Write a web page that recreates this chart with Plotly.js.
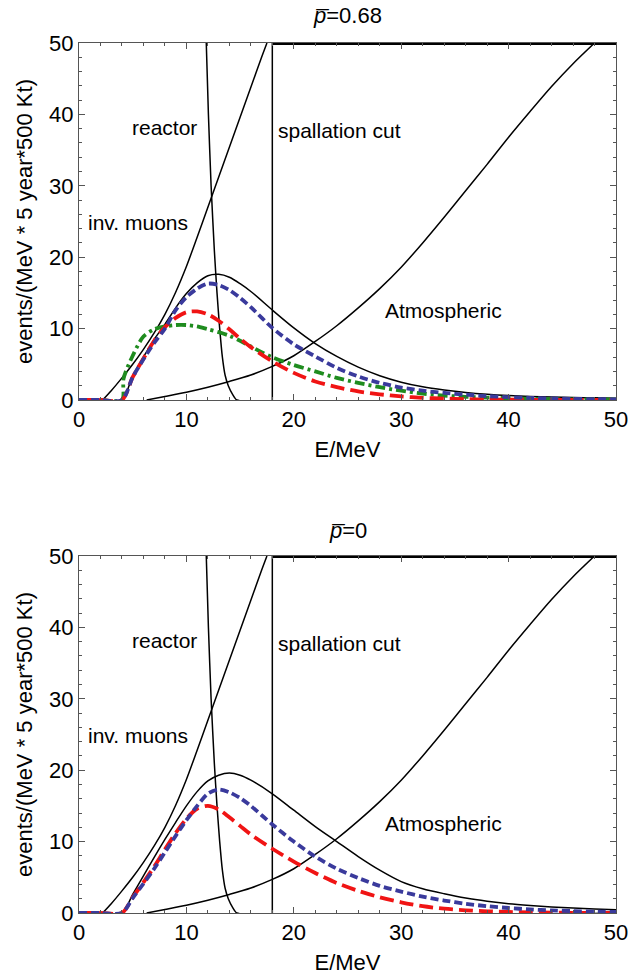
<!DOCTYPE html>
<html>
<head>
<meta charset="utf-8">
<script src="https://cdn.plot.ly/plotly-3.0.1.min.js"></script>
<style>html,body{margin:0;padding:0;background:#fff;}#chart{width:629px;height:975px;}</style>
</head>
<body>
<div id="chart"></div>
<script>
// ---------- data ----------
const energyGrid = [0,2,4,5,6,7,8,9,10,11,12,13,14,15,16,18,20,22,24,26,28,30,32,34,36,38,40,42,44,46,48,50];

// p̄ = 0.68 panel
const black068 = [0,0,0,3.4,6.0,8.5,10.6,12.9,14.9,16.4,17.4,17.6,17.2,16.3,15.2,12.6,10.1,7.9,6.1,4.6,3.4,2.5,1.85,1.4,1.05,0.8,0.62,0.5,0.42,0.35,0.3,0.26];
const blue068  = [0,0,0,3.2,5.7,8.0,10.0,12.6,14.4,15.6,16.3,16.1,15.4,14.3,13.0,10.1,7.8,6.1,4.5,3.3,2.4,1.75,1.3,1.0,0.75,0.55,0.4,0.3,0.22,0.16,0.12,0.09];
const red068   = [0,0,0,3.2,5.8,8.3,10.2,11.5,12.3,12.4,12.0,11.1,9.9,8.6,7.4,5.4,3.8,2.6,1.8,1.2,0.8,0.5,0.3,0.2,0.12,0.08,0.05,0.03,0.02,0.01,0.01,0];
const greenE068 = [0,2,4,4.15,5,6,7,8,9,10,11,12,13,14,15,16,17,18,20,22,24,26,28,30,32,34,36,38,40,42,44,46,48,50];
const green068  = [0,0,0,3.0,6.2,8.9,9.9,10.3,10.5,10.5,10.3,9.9,9.5,9.0,8.3,7.5,6.7,6.0,4.9,4.0,3.1,2.4,1.8,1.3,0.9,0.62,0.45,0.33,0.25,0.18,0.13,0.1,0.08,0.06];

// p̄ = 0 panel
const black0 = [0,0,0,2.6,5.2,7.8,10.3,12.7,15.0,17.0,18.5,19.3,19.6,19.3,18.6,16.7,14.4,12.1,10.0,7.9,6.0,4.4,3.4,2.7,2.1,1.65,1.3,1.05,0.85,0.7,0.57,0.47];
const blue0  = [0,0,0,2.1,4.1,6.2,8.5,10.8,13.0,15.0,16.7,17.3,16.9,16.1,15.0,12.4,10.0,7.9,6.2,4.9,3.8,3.0,2.3,1.75,1.3,0.95,0.7,0.5,0.37,0.27,0.2,0.15];
const red0   = [0,0,0,2.2,4.3,6.5,8.9,11.2,13.2,14.6,15.0,14.5,13.4,12.2,11.0,9.0,7.2,5.6,4.2,3.1,2.2,1.5,0.95,0.6,0.38,0.24,0.15,0.09,0.05,0.03,0.02,0.01];

// backgrounds (same in both panels)
const invMuonE = [2.2,3,4,5,6,7,8,9,10,11,12,13,14,15,16,17,17.5];
const invMuon  = [0,1.3,3.1,5.0,7.1,9.4,12.0,15.1,18.7,22.8,27.0,31.2,35.4,39.6,43.8,48.0,50];
const reactorE = [11.85,12.05,12.3,12.6,12.85,13.1,13.35,13.6,13.9,14.3,14.7,50];
const reactor  = [50,40,30,21,15,10,6,3.5,2,0.8,0,0];
const atmosE = [6.3,8,10,12,14,16,18,20,22,24,26,28,30,32,34,36,38,40,42,44,46,48];
const atmos  = [0,0.5,1.1,1.8,2.6,3.5,4.7,6.2,8.2,10.4,12.9,15.6,18.6,22.0,25.6,29.3,33.0,36.8,40.4,43.9,47.1,50];
const spallationCut = 18;
const yMax = 50;

const panelTitles = ['<i>p\u0305</i>=0.68', '<i>p\u0305</i>=0'];
const labelText = ['reactor','spallation cut','inv. muons','Atmospheric'];
const labelE = [8.0, 24.3, 5.5, 33.9];
const labelY = [38.2, 37.8, 24.9, 12.6];
const tickVals = [0,10,20,30,40,50];

// ---------- styles ----------
const FONT = 'Liberation Sans, Arial, Helvetica, sans-serif';
const blk = {color:'#000', width:1.5, shape:'spline', smoothing:0.8};
const blkStraight = {color:'#000', width:1.5};
const blueLine = {color:'#3a3a9c', width:3.8, dash:'8px,4px', shape:'spline', smoothing:0.8};
const redLine = {color:'#f01414', width:3.8, dash:'14px,6px', shape:'spline', smoothing:0.8};
const greenLine = {color:'#1f8c1f', width:3.8, dash:'10px,4px,3px,4px', shape:'spline', smoothing:0.8};

function panel(xa, ya, black, blue, red, green) {
  const t = [];
  const base = {xaxis:xa, yaxis:ya, mode:'lines', hoverinfo:'skip', type:'scatter'};
  t.push(Object.assign({}, base, {x:atmosE, y:atmos, line:blk}));
  t.push(Object.assign({}, base, {x:invMuonE, y:invMuon, line:blk}));
  t.push(Object.assign({}, base, {x:reactorE, y:reactor, line:Object.assign({}, blk, {smoothing:0.5})}));
  t.push(Object.assign({}, base, {x:[spallationCut, spallationCut], y:[0, yMax], line:blkStraight}));
  t.push(Object.assign({}, base, {x:[spallationCut, 50], y:[yMax, yMax], line:{color:'#000', width:4}}));
  t.push(Object.assign({}, base, {x:energyGrid, y:black, line:blk}));
  if (green) t.push(Object.assign({}, base, {x:greenE068, y:green, line:greenLine}));
  t.push(Object.assign({}, base, {x:energyGrid, y:red, line:redLine}));
  t.push(Object.assign({}, base, {x:energyGrid, y:blue, line:blueLine}));
  return t;
}

const traces = [].concat(
  panel('x','y', black068, blue068, red068, green068),
  panel('x2','y2', black0, blue0, red0, null)
);

const axCommon = {
  range:[0,50], showgrid:false, zeroline:false, showline:true, linecolor:'#555', linewidth:1,
  mirror:'ticks', ticks:'inside', ticklen:6, tickwidth:1, tickcolor:'#555',
  tickvals:tickVals, tickfont:{size:22, family:FONT, color:'#000'},
  minor:{dtick:2, ticks:'inside', ticklen:3, tickwidth:1, tickcolor:'#555', showgrid:false},
  fixedrange:true
};
function xAx(anchor, title) {
  return Object.assign({}, axCommon, {domain:[79/629, 616/629], anchor:anchor,
    title:{text:title, font:{size:22, family:FONT, color:'#000'}, standoff:10}});
}
function yAx(anchor, dom) {
  return Object.assign({}, axCommon, {domain:dom, anchor:anchor,
    title:{text:'events/(MeV * 5 year*500 Kt)', font:{size:22, family:FONT, color:'#000'}, standoff:10}});
}

const annotations = [];
[['x','y'],['x2','y2']].forEach((ax, i) => {
  labelText.forEach((txt, k) => annotations.push({
    xref:ax[0], yref:ax[1], x:labelE[k], y:labelY[k], text:txt, showarrow:false,
    font:{size:21, family:FONT, color:'#000'}, xanchor:'center', yanchor:'middle'
  }));
});
annotations.push({xref:'paper', yref:'paper', x:347.5/629, y:(975-16)/975, text:panelTitles[0], showarrow:false,
  font:{size:22, family:FONT, color:'#000'}, xanchor:'center', yanchor:'middle'});
annotations.push({xref:'paper', yref:'paper', x:347.5/629, y:(975-530)/975, text:panelTitles[1], showarrow:false,
  font:{size:22, family:FONT, color:'#000'}, xanchor:'center', yanchor:'middle'});

const layout = {
  width:629, height:975, margin:{l:0, r:0, t:0, b:0},
  paper_bgcolor:'#fff', plot_bgcolor:'#fff', showlegend:false,
  font:{family:FONT, color:'#000'},
  xaxis: xAx('y', 'E/MeV'),
  yaxis: yAx('x', [(975-400)/975, (975-43)/975]),
  xaxis2: xAx('y2', 'E/MeV'),
  yaxis2: yAx('x2', [(975-913)/975, (975-556)/975]),
  annotations: annotations
};

Plotly.newPlot('chart', traces, layout, {staticPlot:true, displayModeBar:false});
</script>
</body>
</html>
